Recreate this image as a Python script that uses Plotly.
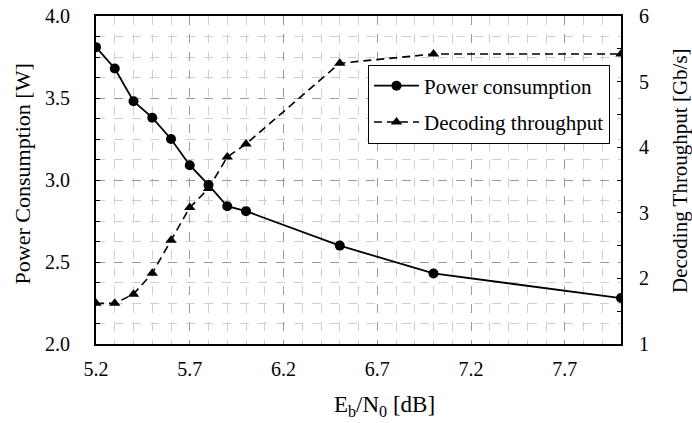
import plotly.graph_objects as go

# Eb/N0 operating points [dB]
ebn0_db = [5.2, 5.3, 5.4, 5.5, 5.6, 5.7, 5.8, 5.9, 6.0, 6.5, 7.0, 8.0]
# Decoder power consumption [W]
power_w = [3.81, 3.68, 3.48, 3.38, 3.25, 3.09, 2.97, 2.84, 2.81, 2.60, 2.43, 2.28]
# Decoding throughput [Gb/s]
throughput_gbps = [1.62, 1.62, 1.76, 2.08, 2.58, 3.08, 3.37, 3.85, 4.05, 5.28, 5.42, 5.42]

x_title = "E<sub>b</sub>/N<sub>0</sub> [dB]"
y_title = "Power Consumption [W]"
y2_title = "Decoding Throughput [Gb/s]"

FONT = "Liberation Serif, Times New Roman, serif"
MAJOR_GRID = "#9a9a9a"
MINOR_GRID = "#cfcfcf"

fig = go.Figure()

fig.add_trace(go.Scatter(
    x=ebn0_db, y=power_w, name="Power consumption",
    mode="lines+markers", legendgroup="p",
    line=dict(color="black", width=1.8),
    marker=dict(symbol="circle", size=10, color="black"),
    yaxis="y",
))
fig.add_trace(go.Scatter(
    x=ebn0_db, y=throughput_gbps, name="Decoding throughput",
    mode="lines+markers", legendgroup="t",
    line=dict(color="black", width=1.6, dash="8px,5px"),
    marker=dict(symbol="triangle-up", size=10, color="black"),
    yaxis="y2",
))

fig.update_layout(
    width=692, height=423,
    margin=dict(l=96, r=71, t=16, b=79),
    paper_bgcolor="white", plot_bgcolor="white",
    font=dict(family=FONT, size=20, color="black"),
    showlegend=True,
    legend=dict(
        x=0.979, y=0.852, xanchor="right", yanchor="top",
        bgcolor="white", bordercolor="black", borderwidth=1,
        font=dict(family=FONT, size=21, color="black"),
        tracegroupgap=6, itemwidth=45,
    ),
    xaxis=dict(
        range=[5.2, 8.0], tick0=5.2, dtick=0.5,
        showline=True, linecolor="black", linewidth=2, mirror=True,
        showgrid=True, gridcolor=MAJOR_GRID, griddash="dash", gridwidth=1,
        minor=dict(dtick=0.1, tick0=5.2, showgrid=True, gridcolor=MINOR_GRID,
                   griddash="dash", gridwidth=1),
        ticks="", tickformat=".1f", ticklabelstandoff=6,
        tickfont=dict(size=20),
        zeroline=False, automargin=False,
    ),
    yaxis=dict(
        range=[2.0, 4.0], dtick=0.5,
        showline=True, linecolor="black", linewidth=2,
        showgrid=True, gridcolor=MAJOR_GRID, griddash="dash", gridwidth=1,
        minor=dict(dtick=0.125, showgrid=True, gridcolor=MINOR_GRID,
                   griddash="dash", gridwidth=1,
                   ticks="inside", ticklen=4, tickcolor="black"),
        ticks="inside", ticklen=4, tickcolor="black",
        tickformat=".1f", ticklabelstandoff=20,
        tickfont=dict(size=20),
        zeroline=False, automargin=False,
    ),
    yaxis2=dict(
        range=[1, 6], dtick=1, overlaying="y", side="right",
        showline=True, linecolor="black", linewidth=2,
        showgrid=False,
        minor=dict(dtick=0.5, ticks="inside", ticklen=4, tickcolor="black"),
        ticks="inside", ticklen=4, tickcolor="black",
        ticklabelstandoff=12,
        tickfont=dict(size=20),
        zeroline=False, automargin=False,
    ),
)

# Axis titles placed as paper-anchored annotations
fig.add_annotation(text=x_title, xref="paper", yref="paper",
                   x=0.549, y=-0.19, xanchor="center", yanchor="middle",
                   showarrow=False, font=dict(family=FONT, size=23))
fig.add_annotation(text=y_title, xref="paper", yref="paper",
                   x=-0.141, y=0.52, xanchor="center", yanchor="middle",
                   textangle=-90, showarrow=False, font=dict(family=FONT, size=22))
fig.add_annotation(text=y2_title, xref="paper", yref="paper",
                   x=1.112, y=0.53, xanchor="center", yanchor="middle",
                   textangle=-90, showarrow=False, font=dict(family=FONT, size=21))

fig.write_html("out.html")
